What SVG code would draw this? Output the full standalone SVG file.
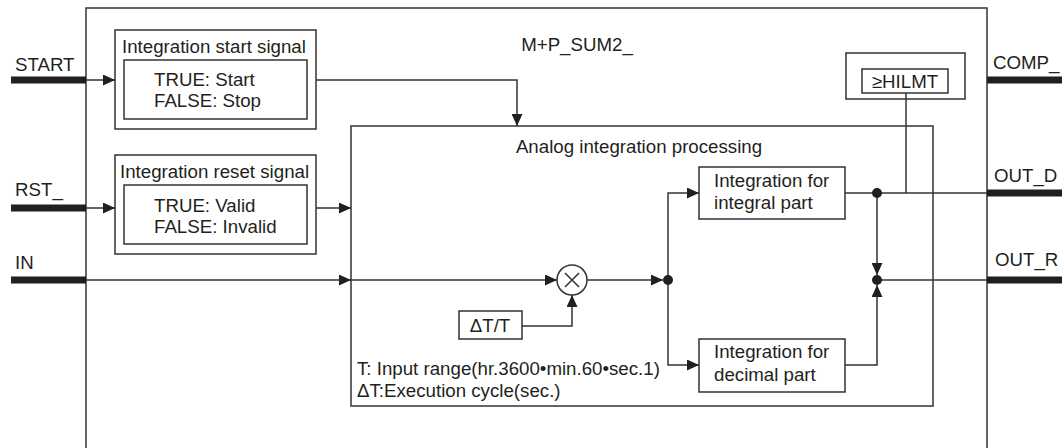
<svg xmlns="http://www.w3.org/2000/svg" width="1062" height="448" viewBox="0 0 1062 448">
<defs>
<style>
.ln{fill:none;stroke:#333;stroke-width:1.5}
.bx{fill:#fff;stroke:#333;stroke-width:1.5}
.bar{fill:#231f20}
.t{font-family:"Liberation Sans",Arial,sans-serif;font-size:18.7px;fill:#231f20}
.m{text-anchor:middle}
.dot{fill:#231f20}
</style>
<marker id="ah" markerUnits="userSpaceOnUse" markerWidth="12" markerHeight="11" refX="12" refY="5.5" orient="auto">
<path d="M0,0 L12,5.5 L0,11 z" fill="#231f20"/>
</marker>
</defs>
<rect width="1062" height="448" fill="#fff"/>
<g id="outer">
<path class="ln" d="M86,448 V8 H987 V448"/>
<text class="t m" x="577" y="51">M+P_SUM2_</text>
</g>
<g id="start-signal">
<rect class="bx" x="115" y="30" width="201" height="99"/>
<rect class="bx" x="124" y="60" width="183" height="59"/>
<text class="t" x="122" y="53">Integration start signal</text>
<text class="t" x="154" y="86">TRUE: Start</text>
<text class="t" x="154" y="107">FALSE: Stop</text>
</g>
<g id="reset-signal">
<rect class="bx" x="115" y="155" width="201" height="99"/>
<rect class="bx" x="124" y="185" width="183" height="59"/>
<text class="t" x="120" y="178">Integration reset signal</text>
<text class="t" x="154" y="212">TRUE: Valid</text>
<text class="t" x="154" y="233">FALSE: Invalid</text>
</g>
<g id="analog">
<rect class="bx" x="351" y="126" width="582" height="280"/>
<text class="t m" x="639" y="153">Analog integration processing</text>
<text class="t" x="357" y="375">T: Input range(hr.3600•min.60•sec.1)</text>
<text class="t" x="357" y="397">ΔT:Execution cycle(sec.)</text>
</g>
<g id="hilmt">
<rect class="bx" x="846" y="53" width="119" height="46"/>
<rect class="bx" x="862" y="69" width="86" height="24"/>
<text class="t m" x="905" y="88">≥HILMT</text>
</g>
<g id="dtt">
<rect class="bx" x="459" y="311" width="63" height="28"/>
<text class="t m" x="490" y="332">ΔT/T</text>
</g>
<g id="multiply">
<circle cx="572" cy="280" r="15" fill="#fff" stroke="#333" stroke-width="1.5"/>
<path class="ln" d="M565,273 L579,287 M579,273 L565,287" stroke-width="1.2"/>
</g>
<g id="integral">
<rect class="bx" x="699" y="167" width="146" height="52"/>
<text class="t" x="714" y="187">Integration for</text>
<text class="t" x="714" y="209">integral part</text>
</g>
<g id="decimal">
<rect class="bx" x="699" y="339" width="146" height="53"/>
<text class="t" x="714" y="358">Integration for</text>
<text class="t" x="714" y="381">decimal part</text>
</g>
<g id="io">
<rect class="bar" x="11" y="76.5" width="75" height="7"/>
<rect class="bar" x="11" y="204.5" width="75" height="7"/>
<rect class="bar" x="11" y="276.5" width="75" height="7"/>
<rect class="bar" x="987" y="76.5" width="75" height="7"/>
<rect class="bar" x="987" y="189.5" width="75" height="7"/>
<rect class="bar" x="987" y="276.5" width="75" height="7"/>
<text class="t" x="15" y="71">START</text>
<text class="t" x="15" y="196">RST_</text>
<text class="t" x="15" y="269">IN</text>
<text class="t" x="993" y="69">COMP_</text>
<text class="t" x="994" y="182">OUT_D</text>
<text class="t" x="995" y="266">OUT_R</text>
</g>
<g id="connectors">
<path class="ln" d="M86,80 H115" marker-end="url(#ah)"/>
<path class="ln" d="M316,80 H517 V126" marker-end="url(#ah)"/>
<path class="ln" d="M86,208 H115" marker-end="url(#ah)"/>
<path class="ln" d="M316,208 H351" marker-end="url(#ah)"/>
<path class="ln" d="M86,280 H351" marker-end="url(#ah)"/>
<path class="ln" d="M351,280 H557" marker-end="url(#ah)"/>
<path class="ln" d="M587,280 H663" marker-end="url(#ah)"/>
<path class="ln" d="M522,326 H572 V295" marker-end="url(#ah)"/>
<path class="ln" d="M668,280 V193 H699" marker-end="url(#ah)"/>
<path class="ln" d="M668,280 V365 H699" marker-end="url(#ah)"/>
<path class="ln" d="M845,193 H987"/>
<path class="ln" d="M906,93 V193"/>
<path class="ln" d="M877,193 V275" marker-end="url(#ah)"/>
<path class="ln" d="M845,365 H877 V285" marker-end="url(#ah)"/>
<path class="ln" d="M877,280 H987"/>
<circle class="dot" cx="668" cy="280" r="5"/>
<circle class="dot" cx="877" cy="193" r="5"/>
<circle class="dot" cx="877" cy="280" r="5"/>
</g>
</svg>
